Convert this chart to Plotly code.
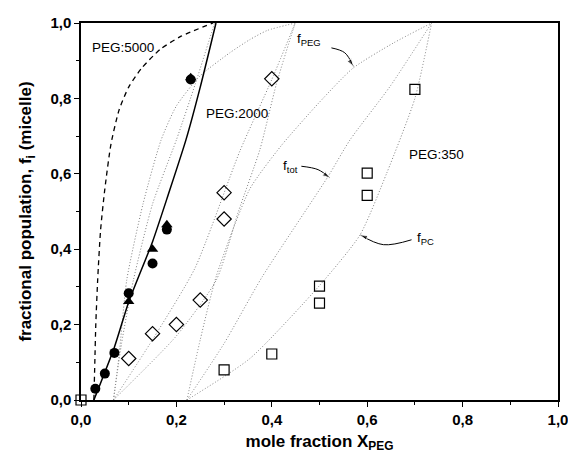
import plotly.graph_objects as go

# ---------------- data ----------------
peg5000_circ_x = [0.03, 0.05, 0.07, 0.10, 0.15, 0.18, 0.23]
peg5000_circ_y = [0.03, 0.07, 0.125, 0.283, 0.362, 0.452, 0.85]
peg5000_tri_x = [0.10, 0.15, 0.18, 0.23]
peg5000_tri_y = [0.261, 0.40, 0.465, 0.855]

peg2000_x = [0.10, 0.15, 0.20, 0.25, 0.30, 0.30, 0.40]
peg2000_y = [0.11, 0.176, 0.20, 0.265, 0.48, 0.55, 0.852]

peg350_x = [0.0, 0.30, 0.40, 0.50, 0.50, 0.60, 0.60, 0.70]
peg350_y = [0.0, 0.08, 0.122, 0.257, 0.302, 0.543, 0.602, 0.824]

# model curves
p5000_dash_x = [0.027, 0.029, 0.031, 0.035, 0.041, 0.050, 0.063, 0.080, 0.100, 0.127, 0.166, 0.210, 0.277]
p5000_dash_y = [0.0, 0.10, 0.20, 0.32, 0.45, 0.56, 0.68, 0.77, 0.83, 0.88, 0.93, 0.965, 1.0]
p5000_solid_x = [0.027, 0.070, 0.100, 0.150, 0.183, 0.220, 0.250, 0.283]
p5000_solid_y = [0.0, 0.14, 0.26, 0.42, 0.545, 0.69, 0.83, 1.0]

p5000_dot_x = [0.068, 0.085, 0.110, 0.150, 0.200, 0.240, 0.280]
p5000_dot_y = [0.0, 0.15, 0.319, 0.52, 0.69, 0.84, 1.0]

p2000_peg_x = [0.068, 0.080, 0.096, 0.130, 0.168, 0.200, 0.249, 0.312, 0.354, 0.390, 0.449]
p2000_peg_y = [0.0, 0.12, 0.319, 0.52, 0.69, 0.78, 0.859, 0.921, 0.956, 0.980, 1.0]
p2000_tot_x = [0.068, 0.150, 0.239, 0.333, 0.400, 0.449]
p2000_tot_y = [0.0, 0.16, 0.35, 0.66, 0.85, 1.0]
p2000_pc_x = [0.068, 0.200, 0.284, 0.330, 0.375, 0.410, 0.449]
p2000_pc_y = [0.0, 0.17, 0.319, 0.50, 0.664, 0.84, 1.0]

p350_peg_x = [0.222, 0.250, 0.284, 0.354, 0.420, 0.500, 0.570, 0.655, 0.735]
p350_peg_y = [0.0, 0.16, 0.33, 0.56, 0.675, 0.79, 0.88, 0.947, 1.0]
p350_tot_x = [0.222, 0.300, 0.380, 0.518, 0.564, 0.648, 0.735]
p350_tot_y = [0.0, 0.15, 0.327, 0.593, 0.69, 0.832, 1.0]
p350_pc_x = [0.222, 0.354, 0.501, 0.585, 0.641, 0.700, 0.735]
p350_pc_y = [0.0, 0.11, 0.305, 0.438, 0.602, 0.80, 1.0]

x_ticks = [0.0, 0.2, 0.4, 0.6, 0.8, 1.0]
y_ticks = [0.0, 0.2, 0.4, 0.6, 0.8, 1.0]

# ---------------- figure ----------------
fig = go.Figure()
FONT = "Liberation Sans, Arial, sans-serif"
DOT = dict(color="#808080", width=1, dash="1px,2px")

for xs, ys in [(p5000_dot_x, p5000_dot_y), (p2000_peg_x, p2000_peg_y), (p2000_tot_x, p2000_tot_y),
               (p2000_pc_x, p2000_pc_y), (p350_peg_x, p350_peg_y), (p350_tot_x, p350_tot_y),
               (p350_pc_x, p350_pc_y)]:
    fig.add_trace(go.Scatter(x=xs, y=ys, mode="lines", line=dict(shape="spline", smoothing=0.6, **DOT),
                             hoverinfo="skip", showlegend=False))

fig.add_trace(go.Scatter(x=p5000_dash_x, y=p5000_dash_y, mode="lines",
                         line=dict(color="black", width=1.3, dash="5px,4px", shape="spline", smoothing=0.6),
                         showlegend=False))
fig.add_trace(go.Scatter(x=p5000_solid_x, y=p5000_solid_y, mode="lines",
                         line=dict(color="black", width=1.5, shape="spline", smoothing=0.6),
                         showlegend=False))

fig.add_trace(go.Scatter(x=peg5000_circ_x, y=peg5000_circ_y, mode="markers",
                         marker=dict(symbol="circle", size=10, color="black"), showlegend=False))
fig.add_trace(go.Scatter(x=peg5000_tri_x, y=peg5000_tri_y, mode="markers",
                         marker=dict(symbol="triangle-up", size=10, color="black"), showlegend=False))
fig.add_trace(go.Scatter(x=peg2000_x, y=peg2000_y, mode="markers",
                         marker=dict(symbol="diamond-open", size=11, color="black", line=dict(width=1.2)),
                         showlegend=False))
fig.add_trace(go.Scatter(x=peg350_x, y=peg350_y, mode="markers", cliponaxis=False,
                         marker=dict(symbol="square-open", size=10, color="black", line=dict(width=1.2)),
                         showlegend=False))

# curved arrows (arrowhead drawn as marker at the end)
arrows = [
    ([0.525, 0.553, 0.571], [0.934, 0.921, 0.885]),
    ([0.462, 0.497, 0.522], [0.620, 0.611, 0.589]),
    ([0.693, 0.634, 0.585], [0.425, 0.412, 0.438]),
]
for ax_, ay_ in arrows:
    fig.add_trace(go.Scatter(x=ax_, y=ay_, mode="lines+markers",
                             line=dict(color="black", width=1, shape="spline"),
                             marker=dict(symbol="arrow", angleref="previous", size=[0, 0, 8], color="black"),
                             hoverinfo="skip", showlegend=False))

labels = [
    (0.088, 0.934, "PEG:5000"),
    (0.326, 0.761, "PEG:2000"),
    (0.745, 0.650, "PEG:350"),
    (0.478, 0.955, "f<sub>PEG</sub>"),
    (0.440, 0.620, "f<sub>tot</sub>"),
    (0.722, 0.428, "f<sub>PC</sub>"),
]
for lx, ly, t in labels:
    fig.add_annotation(x=lx, y=ly, text=t, showarrow=False, font=dict(family=FONT, size=13.5, color="black"))

fig.update_layout(
    width=576, height=465,
    margin=dict(l=73, r=26, t=15, b=73, autoexpand=False),
    plot_bgcolor="white", paper_bgcolor="white",
    separators=",.",
    font=dict(family=FONT, color="black"),
    showlegend=False,
)
fig.update_xaxes(range=[0, 1], tickvals=x_ticks, tickformat=".1f", showgrid=False, zeroline=False,
                 showline=True, linecolor="black", linewidth=1.5, mirror=True, automargin=False,
                 ticks="outside", ticklen=5, tickwidth=1.2, tickcolor="black",
                 minor=dict(ticks="outside", ticklen=3, dtick=0.1, tickcolor="black"),
                 tickfont=dict(family=FONT, size=15, color="black", weight="bold"),
                 title=dict(text="mole fraction X<sub>PEG</sub>", standoff=8,
                            font=dict(family=FONT, size=17, color="black", weight="bold")))
fig.update_yaxes(range=[0, 1], tickvals=y_ticks, tickformat=".1f", showgrid=False, zeroline=False,
                 showline=True, linecolor="black", linewidth=1.5, mirror=True, automargin=False,
                 ticks="outside", ticklen=5, tickwidth=1.2, tickcolor="black",
                 minor=dict(ticks="outside", ticklen=3, dtick=0.1, tickcolor="black"),
                 tickfont=dict(family=FONT, size=15, color="black", weight="bold"),
                 title=dict(text="fractional population, f<sub>i</sub> (micelle)", standoff=14,
                            font=dict(family=FONT, size=17, color="black", weight="bold")))

fig.write_html("out.html")
